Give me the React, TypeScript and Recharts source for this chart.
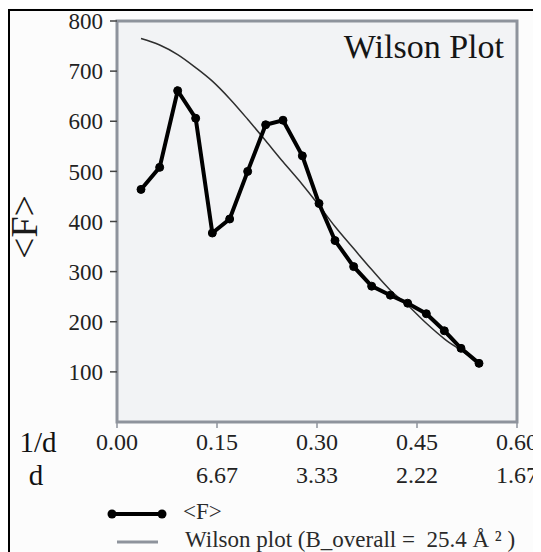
import React from 'react';
import { LineChart, Line, XAxis, YAxis, ReferenceArea, Legend } from 'recharts';

const resolution = [0.036, 0.064, 0.091, 0.118, 0.143, 0.169, 0.196, 0.223, 0.249, 0.278, 0.303, 0.327, 0.355, 0.382, 0.41, 0.436, 0.464, 0.491, 0.516, 0.543];
const meanF = [464, 508, 661, 606, 377, 405, 500, 593, 602, 531, 436, 362, 310, 271, 253, 237, 216, 182, 147, 117];
const wilsonFit = [765, 752, 733, 707, 680, 645, 604, 561, 519, 474, 432, 390, 346, 304, 263, 233, 197, 166, 143, 119];

const xTicks = [0, 0.15, 0.3, 0.45, 0.6];
const dLabels = ['', '6.67', '3.33', '2.22', '1.67'];
const yTicks = [100, 200, 300, 400, 500, 600, 700, 800];

const data = resolution.map((x, i) => ({ x, f: meanF[i], wilson: wilsonFit[i] }));

const FONT = '"Liberation Serif", "Times New Roman", serif';
const BORDER = '#8e939c';

const XTick = (props: any) => {
  const { x, y, payload } = props;
  const idx = xTicks.indexOf(payload.value);
  return (
    <g fontFamily={FONT} fontSize={24} fill="#222">
      <text x={x} y={y + 20} textAnchor="middle">{Number(payload.value).toFixed(2)}</text>
      <text x={x} y={y + 53} textAnchor="middle">{dLabels[idx]}</text>
    </g>
  );
};

const XLabel = (props: any) => {
  const { viewBox } = props;
  return (
    <g fontFamily={FONT} fontSize={29} fill="#111">
      <text x={viewBox.x - 79} y={viewBox.y + 30} textAnchor="middle">1/d</text>
      <text x={viewBox.x - 81} y={viewBox.y + 63} textAnchor="middle">d</text>
    </g>
  );
};

const LegendBox = () => (
  <svg width={533} height={50} style={{ display: 'block', overflow: 'visible' }}>
    <line x1={104} y1={12} x2={154} y2={12} stroke="#000" strokeWidth={4} />
    <circle cx={104} cy={12} r={4.5} fill="#000" />
    <circle cx={154} cy={12} r={4.5} fill="#000" />
    <text x={175} y={17} fontFamily={FONT} fontSize={23} fill="#2a2a2a">{'<F>'}</text>
    <line x1={109} y1={40} x2={150} y2={40} stroke={BORDER} strokeWidth={3} />
    <text x={177} y={45} fontFamily={FONT} fontSize={23} fill="#2a2a2a" style={{ whiteSpace: 'pre' }}>
      {'Wilson plot (B_overall =  25.4 Å ² )'}
    </text>
  </svg>
);

export default function App() {
  return (
    <div style={{ position: 'relative', width: 533, height: 544, background: '#fcfcfc', overflow: 'hidden' }}>
      <div
        style={{
          position: 'absolute',
          left: 0,
          top: 1,
          width: 600,
          height: 600,
          borderLeft: '2px solid #000',
          borderTop: '2px solid #000',
          boxSizing: 'border-box',
        }}
      />
      <LineChart width={533} height={544} data={data} margin={{ top: 13, right: 24, bottom: 0, left: 0 }}>
        <ReferenceArea
          x1={0}
          x2={0.6}
          y1={0}
          y2={800}
          fill="#f2f3f5"
          fillOpacity={1}
          stroke={BORDER}
          strokeWidth={3}
          ifOverflow="visible"
          label={{ value: 'Wilson Plot', position: 'insideTopRight', offset: 13, fontFamily: FONT, fontSize: 34, fill: '#151515' }}
        />
        <XAxis
          dataKey="x"
          type="number"
          domain={[0, 0.6]}
          ticks={xTicks}
          interval={0}
          height={80}
          axisLine={false}
          tickLine={{ stroke: BORDER, strokeWidth: 1.5 }}
          tickSize={6}
          tick={<XTick />}
          label={<XLabel />}
        />
        <YAxis
          type="number"
          domain={[0, 800]}
          ticks={yTicks}
          interval={0}
          width={109}
          axisLine={false}
          tickLine={{ stroke: '#444', strokeWidth: 1.5 }}
          tickSize={7}
          tickMargin={7}
          tick={{ fontFamily: FONT, fontSize: 23, fill: '#222' }}
        />
        <Line
          type="monotone"
          dataKey="wilson"
          stroke="#2e2e2e"
          strokeWidth={1.5}
          dot={false}
          isAnimationActive={false}
        />
        <Line
          type="linear"
          dataKey="f"
          stroke="#000"
          strokeWidth={4}
          dot={{ r: 4, fill: '#000', stroke: '#000', strokeWidth: 1 }}
          isAnimationActive={false}
        />
        <Legend verticalAlign="bottom" content={<LegendBox />} wrapperStyle={{ left: 0, width: 533, height: 50 }} />
      </LineChart>
      {/* y axis title, vertical */}
      <div
        style={{
          position: 'absolute',
          left: -3,
          top: 179,
          width: 38,
          height: 80,
          lineHeight: '38px',
          textAlign: 'center',
          fontFamily: FONT,
          fontSize: 38,
          color: '#1a1a1a',
          writingMode: 'vertical-rl',
          transform: 'rotate(180deg)',
        }}
      >
        {'<F>'}
      </div>
    </div>
  );
}
